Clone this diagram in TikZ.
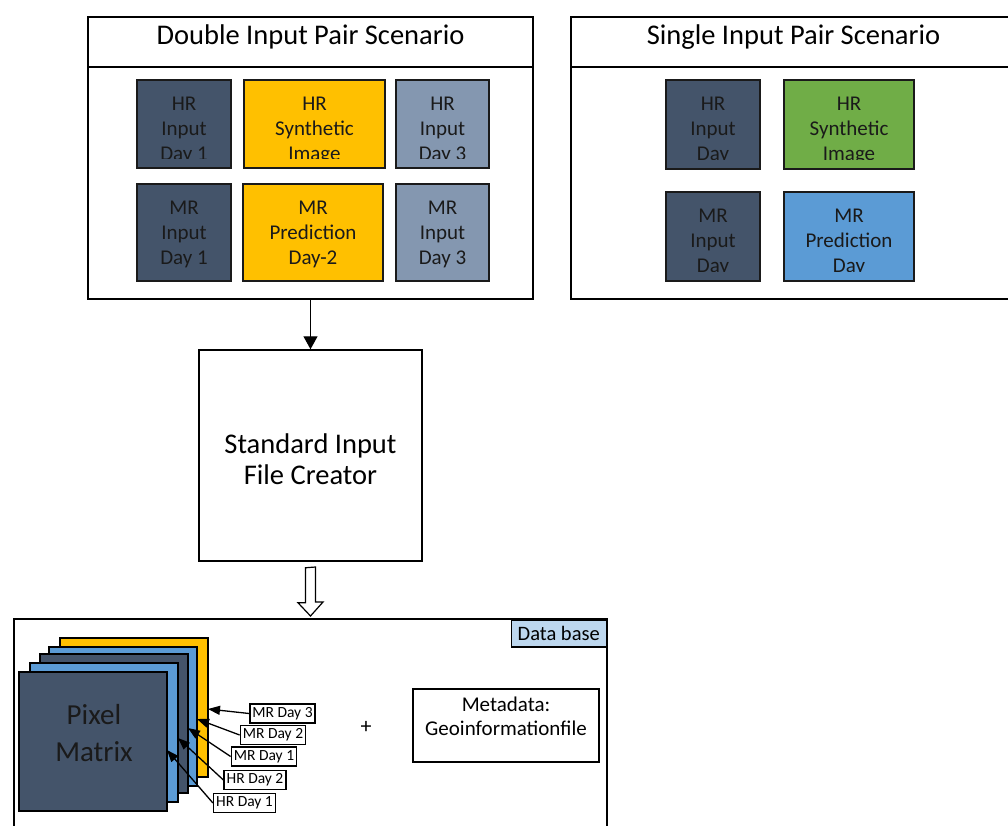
\documentclass[tikz,border=0pt]{standalone}
\usepackage{fontspec}
\setmainfont{Carlito}
\usetikzlibrary{arrows.meta,calc}

\definecolor{slate}{HTML}{44546A}
\definecolor{slatelt}{HTML}{8497B0}
\definecolor{gold}{HTML}{FFC000}
\definecolor{leaf}{HTML}{70AD47}
\definecolor{sky}{HTML}{5B9BD5}
\definecolor{pale}{HTML}{BDD7EE}
\definecolor{ink}{HTML}{1A1A1A}

\tikzset{
  frame/.style={draw=black, line width=1.8pt, inner sep=0pt, outer sep=0pt, anchor=north west},
  tile/.style={draw=ink, line width=1.4pt, inner sep=0pt},
  tiletext/.style={align=center, text=ink, font=\fontsize{21}{25}\selectfont, inner sep=0pt},
  title/.style={font=\fontsize{28.5}{32}\selectfont, anchor=base, inner sep=0pt},
  layer/.style={draw=black, line width=1.4pt, minimum width=148pt, minimum height=139pt,
    inner sep=0pt, outer sep=0pt, anchor=north west},
  tag/.style={draw=black, line width=1.5pt, fill=white, font=\fontsize{15.5}{15.5}\selectfont,
    inner xsep=2.5pt, inner ysep=0pt, minimum height=19pt, text height=11pt, text depth=3.5pt},
  ptr/.style={line width=1.3pt, -{Triangle[length=12pt,width=9pt]}},
}

% coloured tile whose text is cut off a little above the lower border
\newcommand\drawtile[7]{%
  \node[tile, fill=#5, minimum width=#3pt, minimum height=#4pt] (#1) at #2 {};
  \begin{scope}
    \clip ([yshift=10pt]#1.south west) rectangle (#1.north east);
    \node[tiletext] (#1txt) at ([yshift=-#6pt]#1.center) {#7};
  \end{scope}}

\begin{document}
\begin{tikzpicture}[x=1pt,y=-1pt]
\useasboundingbox (0,0) rectangle (1008,825);
\clip (0,0) rectangle (1008,825);

% ---- double input pair scenario ----
\node[frame, minimum width=445pt, minimum height=282pt] (dbl) at (88,17) {};
\draw[line width=1.8pt] ($(dbl.north west)+(0,50)$) -- ($(dbl.north east)+(0,50)$);
\node[title] (dbltitle) at (310.5,44) {Double Input Pair Scenario};

\drawtile{a1}{(184,124)}{94}{88}{slate}{6.5}{HR\\Input\\Day 1}
\drawtile{a2}{(314.5,124)}{141}{88}{gold}{6.5}{HR\\Synthetic\\Image}
\drawtile{a3}{(442.5,124)}{93}{88}{slatelt}{6.5}{HR\\Input\\Day 3}
\drawtile{b1}{(184,232.5)}{94}{97}{slate}{2}{MR\\Input\\Day 1}
\drawtile{b2}{(313,232.5)}{140}{97}{gold}{2}{MR\\Prediction\\Day-2}
\drawtile{b3}{(442.5,232.5)}{93}{97}{slatelt}{2}{MR\\Input\\Day 3}

% ---- single input pair scenario ----
\node[frame, minimum width=445pt, minimum height=282pt] (sgl) at (571,17) {};
\draw[line width=1.8pt] ($(sgl.north west)+(0,50)$) -- ($(sgl.north east)+(0,50)$);
\node[title] (sgltitle) at (793.5,44) {Single Input Pair Scenario};

\drawtile{c1}{(713,124.5)}{94}{89}{slate}{6}{HR\\Input\\Day}
\drawtile{c2}{(849,124.5)}{130}{89}{leaf}{6}{HR\\Synthetic\\Image}
\drawtile{d1}{(713,236.5)}{94}{89}{slate}{6}{MR\\Input\\Day}
\drawtile{d2}{(849,236.5)}{130}{89}{sky}{6}{MR\\Prediction\\Day}

% ---- file creator ----
\node[draw=black, line width=1.5pt, minimum width=223pt, minimum height=211pt, inner sep=0pt]
  (std) at (310.5,455.5) {};
\node[align=center, font=\fontsize{28.5}{31}\selectfont, inner sep=0pt] (stdtext) at (310.5,459.5)
  {Standard Input\\File Creator};
\draw[line width=1.3pt, -{Triangle[length=13pt,width=14pt]}] (std.north |- dbl.south) -- (std.north);

% ---- data base ----
\node[frame, minimum width=593pt, minimum height=230pt] (db) at (14,619) {};
\node[draw=black, line width=1.5pt, fill=pale, minimum width=95pt, minimum height=27pt,
  font=\fontsize{20.5}{24}\selectfont, inner sep=0pt, anchor=north east] (dbtag) at (db.north east) {Data base};

% hollow block arrow into the data base
\draw[line width=1.2pt, fill=white] ($(std.south)+(-5,6)$) -- ++(0,35) -- ++(-7.5,0)
  -- ($(db.north)+(0,-3)$) -- ++(12.5,-14) -- ++(-7.5,0) -- ++(0,-35) -- cycle;

% stacked image layers
\node[layer, fill=gold]  (L5) at (60,638) {};
\node[layer, fill=sky]   (L4) at (49,647) {};
\node[layer, fill=slate] (L3) at (40,654) {};
\node[layer, fill=sky]   (L2) at (30,663) {};
\node[layer, fill=slate] (L1) at (19,672) {};
\node[align=center, font=\fontsize{29}{37}\selectfont, text=ink, inner sep=0pt] (pmtext) at (94,733.5)
  {Pixel\\Matrix};

\node[tag] (t5) at (282.5,713.5) {MR Day 3};
\node[tag] (t4) at (273,735) {MR Day 2};
\node[tag] (t3) at (264,756.5) {MR Day 1};
\node[tag] (t2) at (255,780) {HR Day 2};
\node[tag] (t1) at (244.5,803) {HR Day 1};

\draw[ptr] (t5.west) -- ([yshift=-71pt]L5.north east);
\draw[ptr] (t4.west) -- ([yshift=-72pt]L4.north east);
\draw[ptr] (t3.west) -- ([yshift=-74pt]L3.north east);
\draw[ptr] (t2.west) -- ([yshift=-75pt]L2.north east);
\draw[ptr] (t1.west) -- ([yshift=-78pt]L1.north east);

\node[font=\fontsize{22}{22}\selectfont, inner sep=0pt] (plus) at (366,727) {+};
\node[draw=black, line width=1.5pt, minimum width=186pt, minimum height=73pt, inner sep=0pt]
  (meta) at (506,725.5) {};
\node[align=center, font=\fontsize{21}{24}\selectfont, inner sep=0pt] (metatext) at (506,716)
  {Metadata:\\Geoinformationfile};
\end{tikzpicture}
\end{document}
